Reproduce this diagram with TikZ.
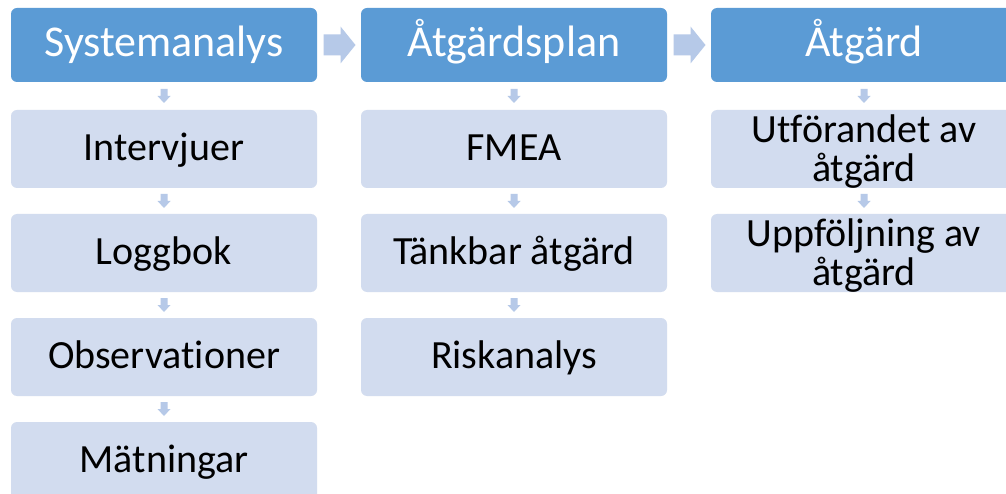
\documentclass[tikz,border=0pt]{standalone}
\usepackage{fontspec}
\setmainfont{Carlito}[Ligatures={NoCommon}]
\usetikzlibrary{calc}
\definecolor{hdr}{HTML}{5B9BD5}
\definecolor{subc}{HTML}{D2DCEF}
\definecolor{arr}{HTML}{B6C9E8}
\tikzset{
  hdrbox/.style={rectangle, rounded corners=6pt, fill=hdr, text=white, minimum width=306pt, minimum height=74pt, inner sep=0pt, font=\fontsize{44}{50}\selectfont, text height=34pt, text depth=10pt},
  subbox/.style={rectangle, rounded corners=6pt, fill=subc, text=black, minimum width=306pt, minimum height=78pt, inner sep=0pt, font=\fontsize{40}{46}\selectfont, text height=33pt, text depth=10pt},
  txt/.style={inner sep=0pt, font=\fontsize{40}{46}\selectfont, text=black},
}
\newcommand\downarr[1]{\fill[arr] ($(#1)+(-3.5,-7)$) -- ++(7,0) -- ++(0,7) -- ++(3,0) -- ($(#1)+(0,7)$) -- ($(#1)+(-6.5,0)$) -- ++(3,0) -- cycle;}
\newcommand\rightarr[1]{\fill[arr] ($(#1)+(-15.5,-10.5)$) -- ++(17,0) -- ++(0,-8) -- ($(#1)+(16.5,0)$) -- ($(#1)+(1.5,18.5)$) -- ++(0,-8) -- ++(-17,0) -- cycle;}
\begin{document}
\begin{tikzpicture}[x=1pt,y=-1pt]
\useasboundingbox (0,0) rectangle (1006,494);
\clip (0,0) rectangle (1006,494);
\fill[white] (0,0) rectangle (1006,494);
% headers
\node[hdrbox] (h1) at (164,45) {Systemanalys};
\node[hdrbox] (h2) at (514,45) {Åtgärdsplan};
\node[hdrbox] (h3) at (864,45) {Åtgärd};
% column 1
\node[subbox] (b11) at (164,149) {Intervjuer};
\node[subbox] (b12) at (164,253) {Loggbok};
\node[subbox] (b13) at (164,357) {Observationer};
\node[subbox] (b14) at (164,461) {Mätningar};
% column 2
\node[subbox] (b21) at (514,149) {FMEA};
\node[subbox] (b22) at (514,253) {Tänkbar åtgärd};
\node[subbox] (b23) at (514,357) {Riskanalys};
% column 3
\node[subbox] (b31) at (864,149) {};
\node[subbox] (b32) at (864,253) {};
% arrows
\coordinate (r1) at ($(h1.east)!0.5!(h2.west)$);
\coordinate (r2) at ($(h2.east)!0.5!(h3.west)$);
\rightarr{r1}
\rightarr{r2}
\foreach \a/\b in {h1/b11,b11/b12,b12/b13,b13/b14,h2/b21,b21/b22,b22/b23,h3/b31,b31/b32}{
  \coordinate (m) at ($(\a.south)!0.5!(\b.north)$);
  \downarr{m}
}
\node[txt, anchor=base] (t311) at ($(b31.center)+(0,-6)$) {Utförandet av};
\node[txt, anchor=base] (t312) at ($(b31.center)+(0,33)$) {åtgärd};
\node[txt, anchor=base] (t321) at ($(b32.center)+(0,-6)$) {Uppföljning av};
\node[txt, anchor=base] (t322) at ($(b32.center)+(0,33)$) {åtgärd};
\end{tikzpicture}
\end{document}
